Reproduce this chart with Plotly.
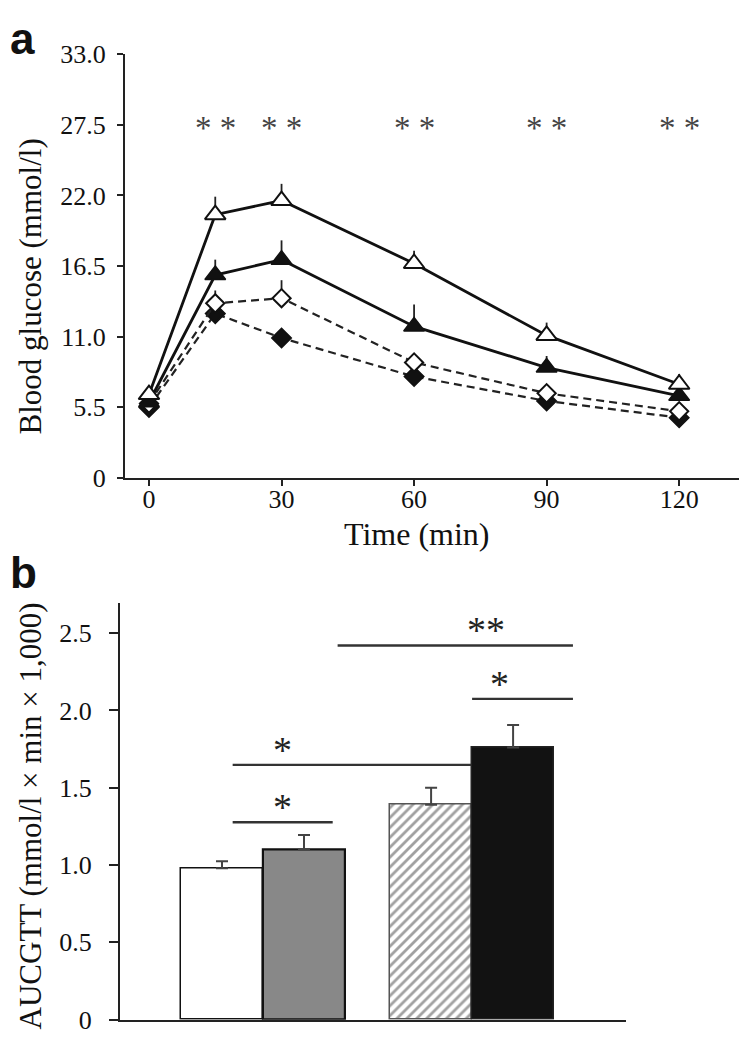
import plotly.graph_objects as go

# ---------------- data: panel a ----------------
time_min = [0, 15, 30, 60, 90, 120]
open_tri = [6.5, 20.5, 21.6, 16.7, 11.1, 7.3]
open_tri_err = [0.3, 1.4, 1.3, 1.0, 1.0, 0.8]
closed_tri = [5.9, 15.8, 17.0, 11.8, 8.6, 6.4]
closed_tri_err = [0.3, 1.2, 1.5, 1.7, 0.9, 0.5]
open_dia = [5.8, 13.6, 14.0, 9.0, 6.6, 5.2]
open_dia_err = [0.2, 1.0, 1.4, 0.6, 0.4, 0.3]
closed_dia = [5.5, 12.8, 10.9, 7.9, 6.0, 4.7]
closed_dia_err = [0.2, 0.6, 0.5, 0.4, 0.3, 0.3]
sig_times = [15, 30, 60, 90, 120]
sig_labels = ["* *", "* *", "* *", "* *", "* *"]
y_ticks_a = [0, 5.5, 11.0, 16.5, 22.0, 27.5, 33.0]
y_ticklabels_a = ["0", "5.5", "11.0", "16.5", "22.0", "27.5", "33.0"]
x_ticks_a = [0, 30, 60, 90, 120]

# ---------------- data: panel b ----------------
groups = ["G1", "G2", "G3", "G4"]
auc = [0.98, 1.10, 1.39, 1.76]
auc_err = [0.045, 0.095, 0.11, 0.145]
y_ticks_b = [0, 0.5, 1.0, 1.5, 2.0, 2.5]
y_ticklabels_b = ["0", "0.5", "1.0", "1.5", "2.0", "2.5"]
# comparisons: (from, to, level, label) in bar-position units
comparisons = [
    (0.13, 1.35, 1.277, "*"),
    (0.13, 3.04, 1.648, "*"),
    (3.05, 4.28, 2.075, "*"),
    (1.41, 4.28, 2.42, "**"),
]
comp_label_x = [0.74, 0.74, 3.39, 3.22]

W, H = 747, 1050
SERIF = "Liberation Serif"

fig = go.Figure()

def px_x(p):
    return p / W

def px_y(p):
    return 1 - p / H

# ---- panel a traces ----
dash_style = "8px,5px"
fig.add_trace(go.Scatter(
    x=time_min, y=closed_dia, mode="lines+markers",
    line=dict(color="#222", width=2.2, dash=dash_style),
    marker=dict(symbol="diamond", size=15, color="#111", line=dict(color="#111", width=1.5)),
    error_y=dict(type="data", symmetric=False, array=closed_dia_err, arrayminus=[0]*6,
                 width=0, thickness=1.8, color="#222"),
    xaxis="x", yaxis="y", showlegend=False))
fig.add_trace(go.Scatter(
    x=time_min, y=open_dia, mode="lines+markers",
    line=dict(color="#222", width=2.2, dash=dash_style),
    marker=dict(symbol="diamond", size=14, color="white", line=dict(color="#111", width=2)),
    error_y=dict(type="data", symmetric=False, array=open_dia_err, arrayminus=[0]*6,
                 width=0, thickness=1.8, color="#222"),
    xaxis="x", yaxis="y", showlegend=False))
fig.add_trace(go.Scatter(
    x=time_min, y=closed_tri, mode="lines+markers",
    line=dict(color="#111", width=2.8),
    marker=dict(symbol="triangle-up", size=18, color="#111", line=dict(color="#111", width=1.5)),
    error_y=dict(type="data", symmetric=False, array=closed_tri_err, arrayminus=[0]*6,
                 width=0, thickness=1.8, color="#222"),
    xaxis="x", yaxis="y", showlegend=False))
fig.add_trace(go.Scatter(
    x=time_min, y=open_tri, mode="lines+markers",
    line=dict(color="#111", width=2.8),
    marker=dict(symbol="triangle-up", size=18, color="white", line=dict(color="#111", width=2)),
    error_y=dict(type="data", symmetric=False, array=open_tri_err, arrayminus=[0]*6,
                 width=0, thickness=1.8, color="#222"),
    xaxis="x", yaxis="y", showlegend=False))

annotations = []
for t, lab in zip(sig_times, sig_labels):
    annotations.append(dict(x=t, y=26.1, xref="x", yref="y", text=lab, showarrow=False,
                            font=dict(family=SERIF, size=33, color="#444"),
                            xanchor="center", yanchor="middle", yshift=15))

# ---- panel b traces ----
positions = [i + (0.55 if i >= 2 else 0) for i in range(len(groups))]
fig.add_trace(go.Bar(
    x=positions, y=auc, width=1.0,
    marker=dict(color=["white", "#888888", "white", "#121212"],
                line=dict(color=["#111", "#111", "#555", "#222"], width=[1.5, 2.2, 1.5, 1.5]),
                pattern=dict(shape=["", "", "/", ""], fgcolor="#8a8a8a", bgcolor="white",
                             size=7, solidity=0.4)),
    error_y=dict(type="data", symmetric=False, array=auc_err, arrayminus=[0]*4,
                 width=6, thickness=2, color="#444"),
    xaxis="x2", yaxis="y2", showlegend=False))

for (x0, x1, lev, lab), lx in zip(comparisons, comp_label_x):
    fig.add_trace(go.Scatter(x=[x0, x1], y=[lev, lev], mode="lines",
                             line=dict(color="#333", width=2.4),
                             xaxis="x2", yaxis="y2", showlegend=False, hoverinfo="skip"))
    annotations.append(dict(x=lx, y=lev, xref="x2", yref="y2", text=lab, showarrow=False,
                            font=dict(family=SERIF, size=38, color="#222"),
                            xanchor="center", yanchor="bottom", yshift=-8))

# ---- text labels ----
annotations += [
    dict(x=0, y=px_y(44), xref="paper", yref="paper", text="<b>a</b>", showarrow=False,
         font=dict(family="Liberation Sans", size=44, color="#111"), xanchor="left", yanchor="bottom"),
    dict(x=0, y=px_y(593), xref="paper", yref="paper", text="<b>b</b>", showarrow=False,
         font=dict(family="Liberation Sans", size=44, color="#111"), xanchor="left", yanchor="bottom"),
    dict(x=px_x(22), y=px_y(272), xref="paper", yref="paper", text="Blood glucose (mmol/l)",
         showarrow=False, textangle=-90, font=dict(family=SERIF, size=31, color="#111"),
         xanchor="center", yanchor="middle"),
    dict(x=px_x(409), y=px_y(527), xref="paper", yref="paper", text="Time (min)",
         showarrow=False, font=dict(family=SERIF, size=32, color="#111"),
         xanchor="center", yanchor="middle"),
    dict(x=px_x(22), y=px_y(817), xref="paper", yref="paper",
         text="AUCGTT (mmol/l × min × 1,000)",
         showarrow=False, textangle=-90, font=dict(family=SERIF, size=31, color="#111"),
         xanchor="center", yanchor="middle"),
]

axis_common = dict(showgrid=False, zeroline=False, showline=True, linecolor="#222", linewidth=2,
                   ticks="outside", tickcolor="#222", tickwidth=1.5,
                   tickfont=dict(family=SERIF, size=26, color="#111"))

fig.update_layout(
    width=W, height=H, margin=dict(l=0, r=0, t=0, b=0),
    paper_bgcolor="white", plot_bgcolor="white",
    xaxis=dict(domain=[px_x(117), px_x(737)], range=[-5.43, 134.9], tickvals=x_ticks_a,
               ticklen=6, anchor="y", ticklabelstandoff=-9, **axis_common),
    yaxis=dict(domain=[px_y(469), px_y(33)], range=[0, 33], tickvals=y_ticks_a,
               ticktext=y_ticklabels_a, ticklen=6, anchor="x", ticklabelstandoff=6,
               **axis_common),
    xaxis2=dict(domain=[px_x(112), px_x(618)], range=[-1.244, 4.927], showticklabels=False,
                anchor="y2", **{**axis_common, "ticks": ""}),
    yaxis2=dict(domain=[px_y(1026), px_y(597)], range=[0, 2.698], tickvals=y_ticks_b,
                ticktext=y_ticklabels_b, ticklen=9, anchor="x2", ticklabelstandoff=12,
                **axis_common),
    annotations=annotations,
    bargap=0,
)

fig.write_html("out.html")
